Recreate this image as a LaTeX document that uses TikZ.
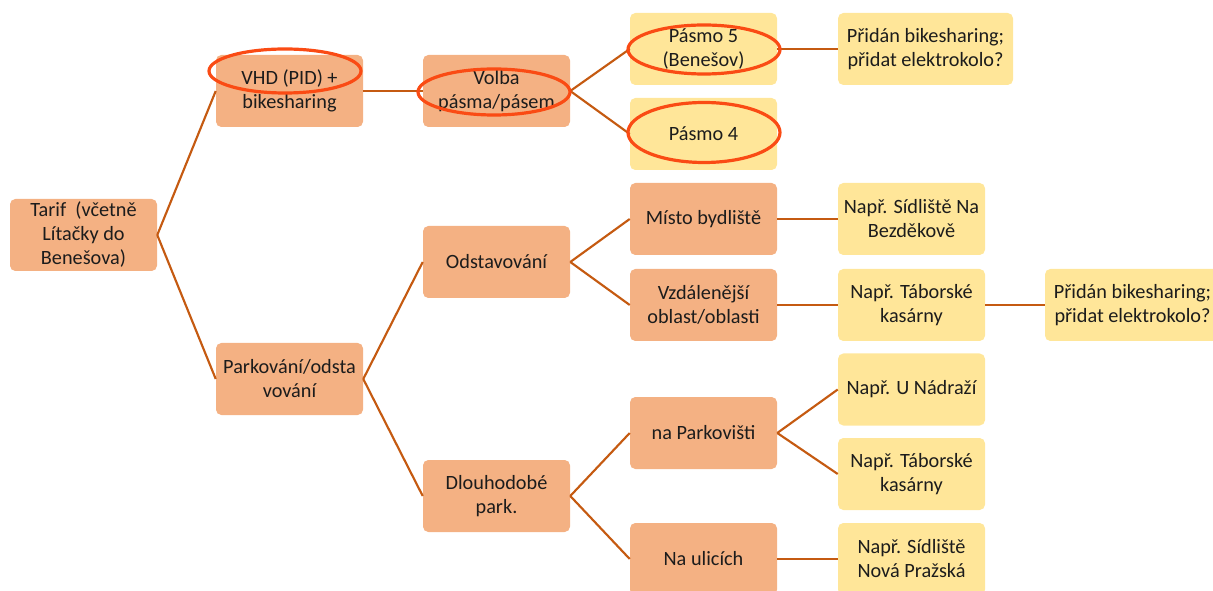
\documentclass[tikz,border=0pt]{standalone}
\usepackage{fontspec}
\setmainfont{Carlito}
\usetikzlibrary{shapes.geometric}
\definecolor{salmon}{HTML}{F4B183}
\definecolor{sand}{HTML}{FFE699}
\definecolor{conn}{HTML}{C55A11}
\definecolor{hilite}{RGB}{250,75,20}
\definecolor{txt}{HTML}{1C1C1C}
\tikzset{
  base/.style={rounded corners=4pt, minimum width=110.25pt, minimum height=54pt, align=center,
    font=\fontsize{15.2}{18}\selectfont, text=txt, inner sep=2pt},
  sbox/.style={base, fill=salmon},
  ybox/.style={base, fill=sand},
  wide/.style={minimum width=131.25pt},
  link/.style={draw=conn, line width=1.6pt},
  hl/.style={ellipse, draw=hilite, line width=2.4pt, inner sep=0pt}
}
\begin{document}
\begin{tikzpicture}[x=0.75pt,y=-0.75pt]
\useasboundingbox (0,0) rectangle (1213,591);
% level 0
\node[sbox] (tarif) at (83.5,235) {Tarif\ \ (včetně\\Lítačky do\\Benešova)};
% level 1
\node[sbox] (vhd) at (289.5,91) {VHD (PID) +\\bikesharing};
\node[sbox] (park) at (289.5,379) {Parkování/odsta\\vování};
% level 2
\node[sbox] (volba) at (496.5,91) {Volba\\pásma/pásem};
\node[sbox] (odst) at (496.5,262) {Odstavování};
\node[sbox] (dlouho) at (496.5,496) {Dlouhodobé\\park.};
% level 3
\node[ybox] (p5) at (703.5,49) {Pásmo 5\\(Benešov)};
\node[ybox] (p4) at (703.5,134) {Pásmo 4};
\node[sbox] (misto) at (703.5,219) {Místo bydliště};
\node[sbox] (vzdal) at (703.5,305) {Vzdálenější\\oblast/oblasti};
\node[sbox] (napark) at (703.5,433) {na Parkovišti};
\node[sbox] (ulice) at (703.5,559) {Na ulicích};
% level 4
\node[ybox,wide] (prid1) at (925.5,49) {Přidán bikesharing;\\přidat elektrokolo?};
\node[ybox] (bezd) at (911.5,219) {Např. Sídliště Na\\Bezděkově};
\node[ybox] (tab1) at (911.5,305) {Např. Táborské\\kasárny};
\node[ybox] (nadr) at (911.5,389.5) {Např. U Nádraží};
\node[ybox] (tab2) at (911.5,474) {Např. Táborské\\kasárny};
\node[ybox] (nova) at (911.5,559) {Např. Sídliště\\Nová Pražská};
% level 5
\node[ybox,wide] (prid2) at (1132.5,305) {Přidán bikesharing;\\přidat elektrokolo?};
% connectors
\draw[link] (tarif.east) -- (vhd.west);
\draw[link] (tarif.east) -- (park.west);
\draw[link] (vhd.east) -- (volba.west);
\draw[link] (volba.east) -- (p5.west);
\draw[link] (volba.east) -- (p4.west);
\draw[link] (p5.east) -- (prid1.west);
\draw[link] (park.east) -- (odst.west);
\draw[link] (park.east) -- (dlouho.west);
\draw[link] (odst.east) -- (misto.west);
\draw[link] (odst.east) -- (vzdal.west);
\draw[link] (misto.east) -- (bezd.west);
\draw[link] (vzdal.east) -- (tab1.west);
\draw[link] (tab1.east) -- (prid2.west);
\draw[link] (dlouho.east) -- (napark.west);
\draw[link] (dlouho.east) -- (ulice.west);
\draw[link] (napark.east) -- (nadr.west);
\draw[link] (napark.east) -- (tab2.west);
\draw[link] (ulice.east) -- (nova.west);
% highlight ellipses
\node[hl, minimum width=114pt, minimum height=33pt] (e1) at (285,71) {};
\node[hl, minimum width=114pt, minimum height=34.5pt] (e2) at (494,92) {};
\node[hl, minimum width=114pt, minimum height=36.75pt] (e3) at (704,49.5) {};
\node[hl, minimum width=114pt, minimum height=45pt] (e4) at (704,132.5) {};
\end{tikzpicture}
\end{document}
